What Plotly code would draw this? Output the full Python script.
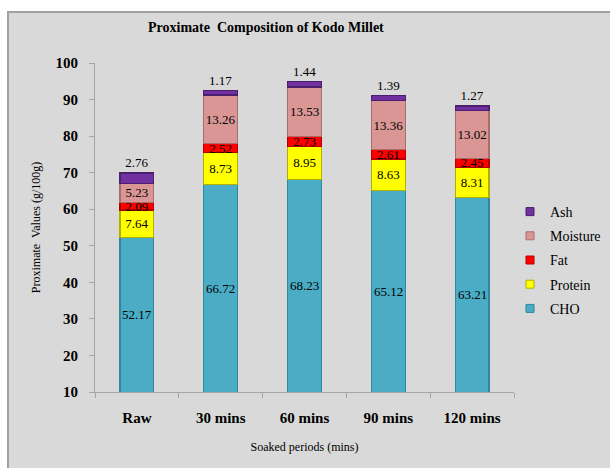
import plotly.graph_objects as go

categories = ["Raw", "30 mins", "60 mins", "90 mins", "120 mins"]
cho = [52.17, 66.72, 68.23, 65.12, 63.21]
protein = [7.64, 8.73, 8.95, 8.63, 8.31]
fat = [2.09, 2.52, 2.73, 2.61, 2.45]
moisture = [5.23, 13.26, 13.53, 13.36, 13.02]
ash = [2.76, 1.17, 1.44, 1.39, 1.27]
y_ticks = [10, 20, 30, 40, 50, 60, 70, 80, 90, 100]
y_range = [10, 100]

SERIF = "Liberation Serif, Times New Roman, serif"

series = [
    ("CHO", cho, "#4BACC6", "#31859C", "none"),
    ("Protein", protein, "#FFFF00", "#B0B000", "inside"),
    ("Fat", fat, "#FF0000", "#B00000", "inside"),
    ("Moisture", moisture, "#D99694", "#A86E6C", "inside"),
    ("Ash", ash, "#7030A0", "#4B1E6E", "outside"),
]

fig = go.Figure()
for name, vals, col, lcol, pos in series:
    fig.add_trace(go.Bar(
        name=name, x=categories, y=vals,
        marker=dict(color=col, line=dict(color=lcol, width=1.2)),
        text=[f"{v:.2f}" for v in vals], textposition=pos, textangle=0,
        textfont=dict(family=SERIF, size=13, color="black"),
        insidetextanchor="middle",
        constraintext="none", cliponaxis=False,
        showlegend=False,
    ))
# legend swatches (Ash listed first, CHO last)
for name, vals, col, lcol, pos in reversed(series):
    fig.add_trace(go.Scatter(
        name=name, x=[None], y=[None], mode="markers",
        marker=dict(symbol="square", size=8, color=col, line=dict(color=lcol, width=1)),
        legendgroup=name, showlegend=True,
    ))

# CHO labels centred on the visible part of the bar (axis starts at 10)
annotations = [dict(
    x=c, y=(y_range[0] + v) / 2, xref="x", yref="y", text=f"{v:.2f}",
    showarrow=False, font=dict(family=SERIF, size=13, color="black"),
) for c, v in zip(categories, cho)]

W, H = 610, 468
ml, mr, mt, mb = 95, 96, 63, 76
pw, ph = W - ml - mr, H - mt - mb

def px_x(p):
    return (p - ml) / pw

def px_y(p):
    return (H - mb - p) / ph

annotations.append(dict(
    text="<b>Proximate  Composition of Kodo Millet</b>",
    xref="paper", yref="paper", x=px_x(266), y=px_y(28),
    xanchor="center", yanchor="middle", showarrow=False,
    font=dict(family=SERIF, size=14, color="black"),
))

fig.update_layout(
    width=W, height=H,
    margin=dict(l=ml, r=mr, t=mt, b=mb, autoexpand=False),
    barmode="stack", bargap=0.595,
    paper_bgcolor="white", plot_bgcolor="white",
    font=dict(family=SERIF, color="black"),
    showlegend=True,
    legend=dict(
        traceorder="grouped", x=px_x(510), y=px_y(196), xanchor="left", yanchor="top",
        bgcolor="rgba(0,0,0,0)", font=dict(family=SERIF, size=14),
        tracegroupgap=3, itemwidth=30,
    ),
    shapes=[dict(
        type="rect", xref="paper", yref="paper",
        x0=px_x(8), x1=px_x(W + 5), y0=px_y(H + 5), y1=px_y(12),
        fillcolor="#D9D9D9", line=dict(color="#A0A0A0", width=2), layer="below",
    )],
    annotations=annotations,
)

fig.update_xaxes(
    showline=True, linecolor="#A6A6A6", linewidth=1,
    ticks="outside", tickson="boundaries", ticklen=5, tickcolor="#A6A6A6",
    ticklabelstandoff=12,
    tickfont=dict(family=SERIF, size=15, color="black", weight="bold"),
    title=dict(text="Soaked periods (mins)", font=dict(family=SERIF, size=12), standoff=17),
)
fig.update_yaxes(
    range=y_range, tickvals=y_ticks,
    showline=True, linecolor="#A6A6A6", linewidth=1,
    ticks="outside", ticklen=5, tickcolor="#A6A6A6",
    showgrid=False, zeroline=False,
    ticklabelstandoff=8,
    tickfont=dict(family=SERIF, size=15, color="black", weight="bold"),
    title=dict(text="Proximate  Values (g/100g)", font=dict(family=SERIF, size=12), standoff=12),
)

fig.write_html("out.html")
